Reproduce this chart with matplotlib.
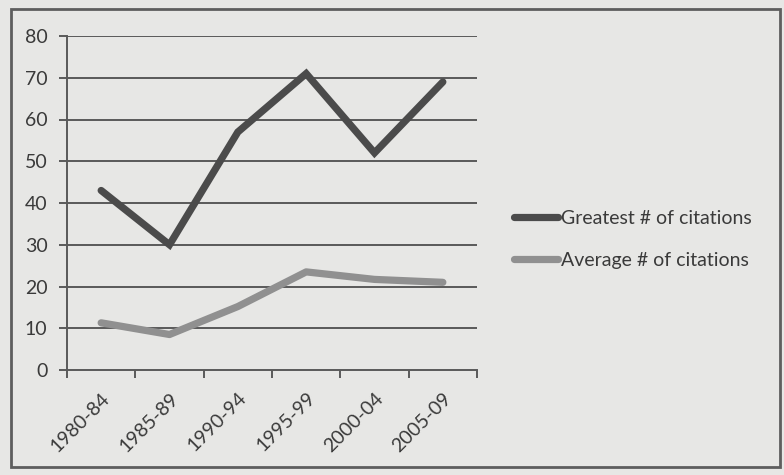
import matplotlib
matplotlib.use("Agg")
import matplotlib.pyplot as plt
from matplotlib.patches import Rectangle
from matplotlib.transforms import ScaledTranslation
import numpy as np

periods = ["1980-84", "1985-89", "1990-94", "1995-99", "2000-04", "2005-09"]
greatest = [43, 30, 57, 71, 52, 69]
average = [11.3, 8.5, 15.2, 23.5, 21.7, 21.0]
y_ticks = [0, 10, 20, 30, 40, 50, 60, 70, 80]

plt.rcParams["font.family"] = ["Lato", "DejaVu Sans"]
bg = "#e7e7e5"
text_c = "#3a3a3a"
grid_c = "#5a5a5a"

fig = plt.figure(figsize=(7.84, 4.75), dpi=100, facecolor=bg)
W, H = 784, 475
ax = fig.add_axes([67 / W, 1 - 370 / H, (477 - 67) / W, (370 - 36) / H], facecolor=bg)

x = np.arange(len(periods))
ax.plot(x, greatest, color="#4b4b4b", lw=5.2, solid_capstyle="round",
        solid_joinstyle="miter", label="Greatest # of citations", zorder=3)
ax.plot(x, average, color="#909090", lw=5.2, solid_capstyle="round",
        solid_joinstyle="round", label="Average # of citations", zorder=3)

ax.set_xlim(-0.5, len(periods) - 0.5)
ax.set_ylim(0, 80)
ax.set_yticks(y_ticks)
ax.set_yticklabels([str(v) for v in y_ticks])
for v in y_ticks[1:]:
    ax.axhline(v, color=grid_c, lw=1.4, zorder=1)

ax.set_xticks(np.arange(-0.5, len(periods)), minor=False)
ax.set_xticklabels([])
ax.set_xticks(x, minor=True)
ax.set_xticklabels(periods, minor=True, rotation=45, ha="right",
                   rotation_mode="anchor", fontsize=14, color=text_c)
shift = ScaledTranslation(7 / 100, 3 / 100, fig.dpi_scale_trans)
for lbl in ax.get_xticklabels(minor=True):
    lbl.set_transform(lbl.get_transform() + shift)
ax.tick_params(axis="x", which="major", length=6, width=1.4, color=grid_c)
ax.tick_params(axis="x", which="minor", length=0, pad=14)
ax.tick_params(axis="y", length=6, width=1.4, color=grid_c, labelsize=14,
               labelcolor=text_c, pad=8)

for s in ["top", "right"]:
    ax.spines[s].set_visible(False)
for s in ["left", "bottom"]:
    ax.spines[s].set_color(grid_c)
    ax.spines[s].set_linewidth(1.4)

leg = fig.legend(loc="center left", bbox_to_anchor=(496 / W, 1 - 239.5 / H),
                 frameon=False, fontsize=14, handlelength=2.3, handletextpad=0.15,
                 labelspacing=1.3, labelcolor=text_c)

fig.add_artist(Rectangle((11 / W, 1 - 467 / H), (780 - 11) / W, (467 - 9) / H,
                         transform=fig.transFigure, fill=False,
                         edgecolor="#5e5e5e", lw=2.0))

fig.savefig("out.png", dpi=100, facecolor=bg)
